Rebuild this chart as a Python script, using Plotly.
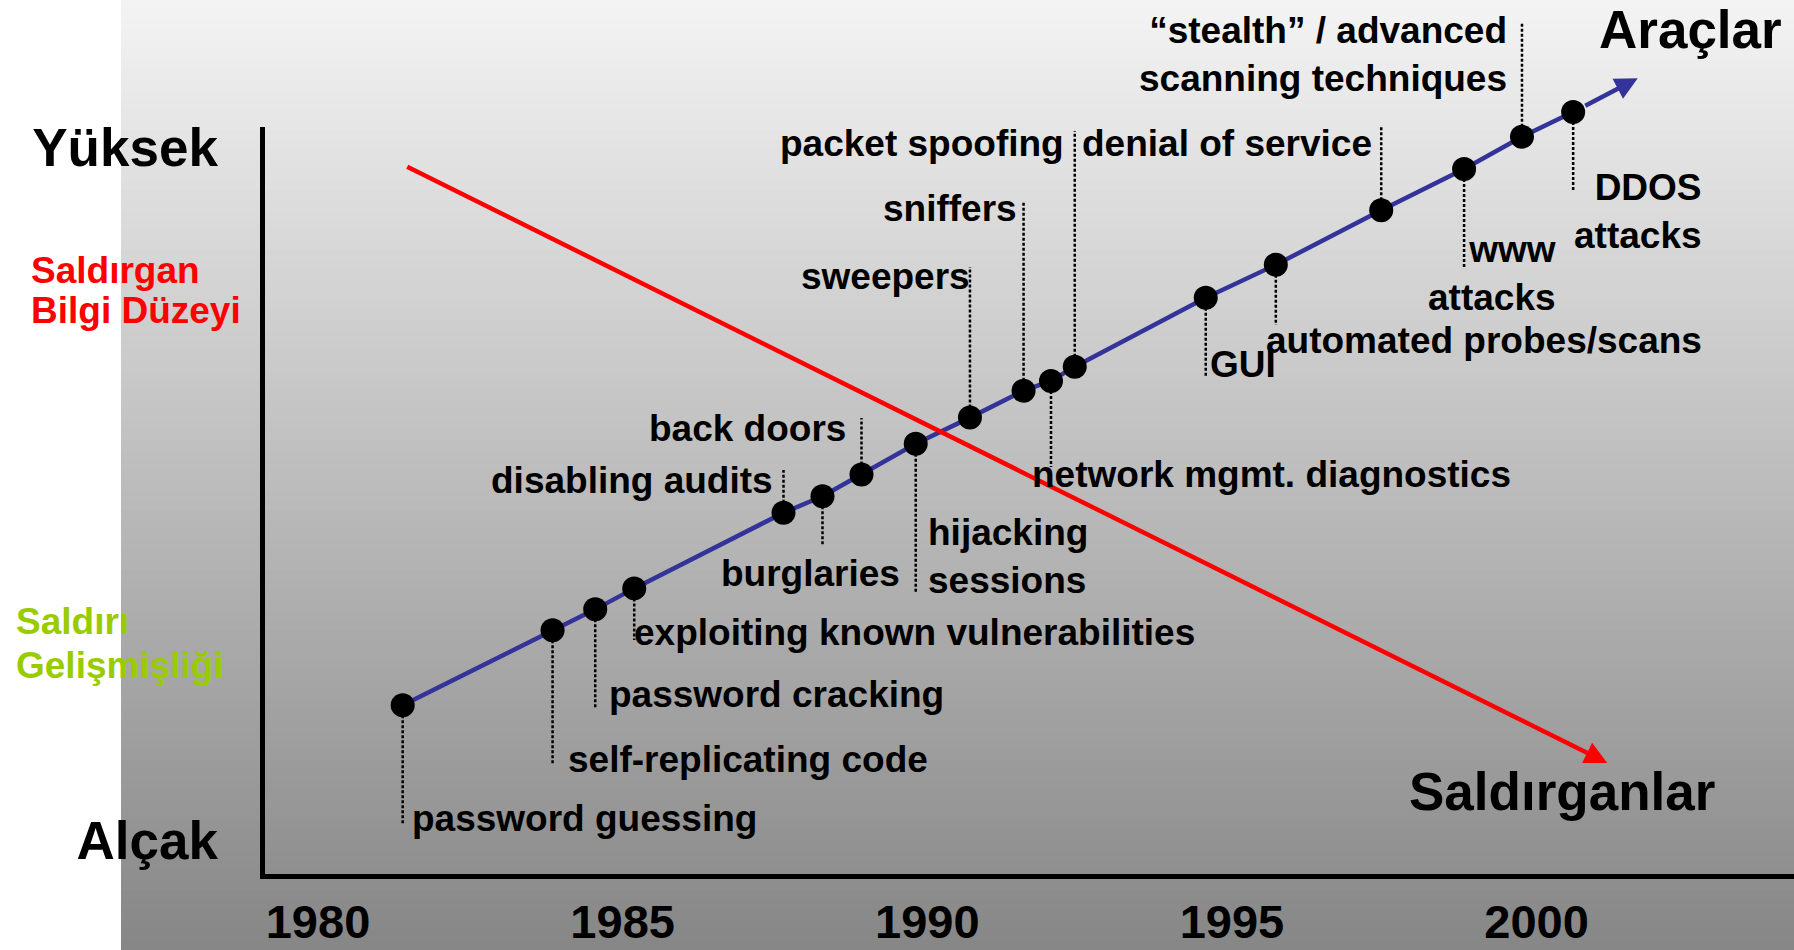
import plotly.graph_objects as go

# ---------------- data ----------------
events = [
    "password guessing", "self-replicating code", "password cracking",
    "exploiting known vulnerabilities", "disabling audits", "burglaries",
    "back doors", "hijacking<br>sessions", "sweepers", "sniffers",
    "network mgmt. diagnostics", "packet spoofing", "GUI",
    "automated probes/scans", "denial of service", "www<br>attacks",
    "“stealth” / advanced<br>scanning techniques", "DDOS<br>attacks",
]
event_years = [1981.39, 1983.85, 1984.55, 1985.19, 1987.64, 1988.28, 1988.92, 1989.81,
               1990.70, 1991.58, 1992.03, 1992.42, 1994.57, 1995.72, 1997.45, 1998.81,
               1999.76, 2000.60]
event_levels = [22.8, 32.8, 35.6, 38.4, 48.5, 50.7, 53.6, 57.7, 61.2, 64.8, 66.1, 68.0,
                77.2, 81.6, 88.9, 94.4, 98.7, 102.0]
tools_arrow_year = 2001.66
tools_arrow_level = 106.5
intruder_years = [1981.44, 2001.16]
intruder_levels = [94.8, 15.1]
year_ticks = [1980, 1985, 1990, 1995, 2000]
year_labels = ["1980", "1985", "1990", "1995", "2000"]
level_ticks = [4.8, 97.3]
level_labels = ["Alçak", "Yüksek"]
tools_title = "Araçlar"
intruders_title = "Saldırganlar"
knowledge_title = ["Saldırgan", "Bilgi Düzeyi"]
sophistication_title = ["Saldırı", "Gelişmişliği"]

# ---------------- layout helpers ----------------
W, H = 1794, 950
PX_PER_YEAR, PX_1980 = 60.93, 318.0
PX_PER_LEVEL, PY_LEVEL0 = 7.49, 876.0
FONT = "Liberation Sans, Arial, Helvetica, sans-serif"


def yr(px):
    return 1980 + (px - PX_1980) / PX_PER_YEAR


def lv(py):
    return (PY_LEVEL0 - py) / PX_PER_LEVEL


# leader end level, label anchor (pixels), anchor side
placement = [
    (6.81, 410, 818, "left"),
    (14.82, 566, 759.5, "left"),
    (22.43, 607, 694, "left"),
    (31.51, 632, 632.5, "left"),
    (54.21, 775, 480, "right"),
    (44.19, 810, 573, "center"),
    (61.15, 848, 428, "right"),
    (37.78, 926, 556.5, "left"),
    (81.31, 972, 276, "right"),
    (90.12, 1019, 209, "right"),
    (54.61, 1030, 474.5, "left"),
    (99.47, 1066, 144, "right"),
    (66.62, 1208, 364, "left"),
    (73.56, 1264, 340, "left"),
    (100.13, 1080, 144, "left"),
    (81.31, 1558, 273, "right"),
    (114.02, 1509, 54, "right"),
    (91.32, 1704, 211, "right"),
]

fig = go.Figure()

# dotted leader lines
lx, ly = [], []
for (x, y, p) in zip(event_years, event_levels, placement):
    lx += [x, x, None]
    ly += [y, p[0], None]
fig.add_trace(go.Scatter(x=lx, y=ly, mode="lines",
                         line=dict(color="black", width=2.5, dash="3px,2px"),
                         hoverinfo="skip", showlegend=False))

# tools trend with event dots
fig.add_trace(go.Scatter(x=event_years, y=event_levels, mode="lines+markers",
                         line=dict(color="#333399", width=4.5),
                         marker=dict(color="black", size=24),
                         hovertext=[e.replace("<br>", " ") for e in events],
                         hoverinfo="text", showlegend=False))

# dummy trace for the visible frame axes
fig.add_trace(go.Scatter(x=[], y=[], xaxis="x2", yaxis="y2", showlegend=False))

annotations = []
# intruder knowledge arrow (red)
annotations.append(dict(x=intruder_years[1], y=intruder_levels[1], ax=intruder_years[0],
                        ay=intruder_levels[0], xref="x", yref="y", axref="x", ayref="y",
                        text="", showarrow=True, arrowhead=2, arrowsize=1.0,
                        arrowwidth=4.5, arrowcolor="#ff0000", standoff=0, startstandoff=0))
# tools arrow head (blue)
annotations.append(dict(x=tools_arrow_year, y=tools_arrow_level, ax=event_years[-1],
                        ay=event_levels[-1], xref="x", yref="y", axref="x", ayref="y",
                        text="", showarrow=True, arrowhead=2, arrowsize=1.0,
                        arrowwidth=4.5, arrowcolor="#333399", standoff=0, startstandoff=12))

lab_font = dict(family=FONT, size=37, color="black", weight="bold")
for text, p in zip(events, placement):
    annotations.append(dict(x=p[1] / W, y=1 - p[2] / H, xref="paper", yref="paper",
                            xanchor=p[3], yanchor="middle", align=p[3],
                            text=text, showarrow=False, font=lab_font))

big_font = dict(family=FONT, size=53, color="black", weight="bold")
annotations.append(dict(x=1597 / W, y=1 - 30 / H, xref="paper", yref="paper",
                        xanchor="left", yanchor="middle", text=tools_title,
                        showarrow=False, font=big_font))
annotations.append(dict(x=1407 / W, y=1 - 791.5 / H, xref="paper", yref="paper",
                        xanchor="left", yanchor="middle", text=intruders_title,
                        showarrow=False, font=big_font))

for line, (lx_px, ly_px) in zip(knowledge_title, [(29, 270), (29, 311)]):
    annotations.append(dict(x=lx_px / W, y=1 - ly_px / H, xref="paper", yref="paper",
                            xanchor="left", yanchor="middle", text=line, showarrow=False,
                            font=dict(family=FONT, size=37, color="#ff0000", weight="bold")))
for line, (lx_px, ly_px) in zip(sophistication_title, [(14, 621), (14, 665)]):
    annotations.append(dict(x=lx_px / W, y=1 - ly_px / H, xref="paper", yref="paper",
                            xanchor="left", yanchor="middle", text=line, showarrow=False,
                            font=dict(family=FONT, size=37, color="#99cc00", weight="bold")))

# gradient background
shapes = []
N = 95
for i in range(N):
    y0 = i * H / N
    y1 = (i + 1) * H / N
    c = int(round(244 - 110 * ((y0 + y1) / 2) / H))
    shapes.append(dict(type="rect", xref="paper", yref="paper", x0=121 / W, x1=1.01,
                       y0=1 - y1 / H - 0.0006, y1=1 - y0 / H + 0.0006 + (0.02 if i == 0 else 0),
                       fillcolor=f"rgb({c},{c},{c})", line=dict(width=0), layer="below"))

AX_X = 262 + 2.5
AX_BOTTOM = 876 - 2.5
AX_TOP = 127

fig.update_layout(
    width=W, height=H, autosize=False,
    margin=dict(l=0, r=0, t=0, b=0, pad=0, autoexpand=False),
    paper_bgcolor="white", plot_bgcolor="rgba(0,0,0,0)",
    showlegend=False,
    xaxis=dict(domain=[0, 1], range=[yr(0), yr(W)], visible=False, fixedrange=True,
               automargin=False),
    yaxis=dict(domain=[0, 1], range=[lv(H), lv(0)], visible=False, fixedrange=True,
               automargin=False),
    xaxis2=dict(domain=[AX_X / W, 1], range=[yr(AX_X), yr(W)], anchor="y2",
                showline=True, linewidth=5, linecolor="black", showgrid=False,
                zeroline=False, ticks="", tickvals=year_ticks, ticktext=year_labels,
                tickfont=dict(family=FONT, size=47, color="black", weight="bold"),
                ticklabelstandoff=3, fixedrange=True, automargin=False),
    yaxis2=dict(domain=[(H - AX_BOTTOM) / H, (H - AX_TOP) / H],
                range=[lv(AX_BOTTOM), lv(AX_TOP)], anchor="x2",
                showline=True, linewidth=5, linecolor="black", showgrid=False,
                zeroline=False, ticks="", tickvals=level_ticks, ticktext=level_labels,
                tickfont=dict(family=FONT, size=53, color="black", weight="bold"),
                ticklabelstandoff=31, fixedrange=True, automargin=False),
    annotations=annotations,
    shapes=shapes,
)

fig.write_html("out.html", config={"displayModeBar": False},
               post_script="document.body.style.margin='0';")
